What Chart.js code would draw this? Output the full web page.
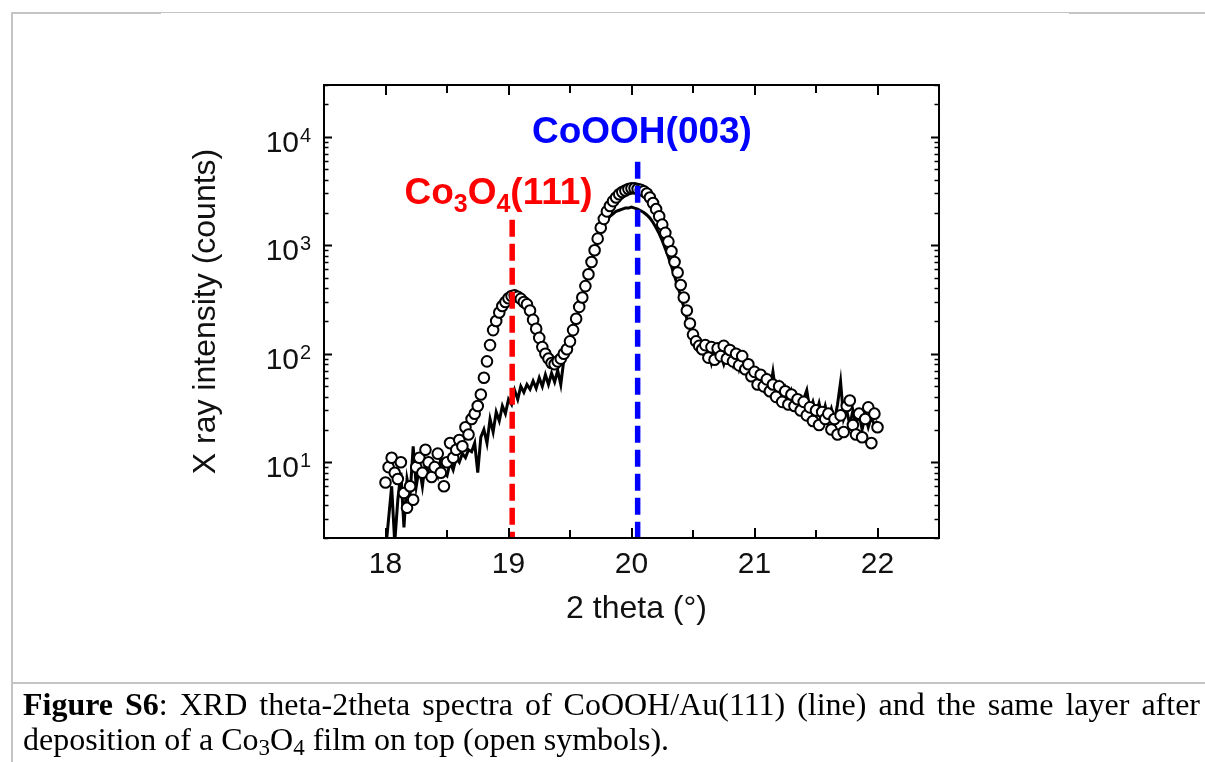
<!DOCTYPE html>
<html><head><meta charset="utf-8">
<script src="https://cdn.jsdelivr.net/npm/chart.js@4.4.1/dist/chart.umd.min.js"></script>
<style>
html,body{margin:0;padding:0;background:#fff;width:1205px;height:762px;overflow:hidden;}
body{position:relative;}
#wrap{position:absolute;left:0;top:0;width:1205px;height:680px;z-index:1;}
.bl{position:absolute;background:#c4c4c4;z-index:2;}
#cap{position:absolute;left:23px;top:687px;width:1177px;font-family:"Liberation Serif","Times New Roman",serif;font-size:32px;line-height:35px;text-align:justify;color:#000;z-index:2;}
#cap sub{font-size:0.72em;vertical-align:baseline;position:relative;top:0.22em;line-height:0;}
</style></head>
<body>
<div id="wrap"><canvas id="c"></canvas></div>
<div class="bl" style="left:11px;top:12px;width:1194px;height:1px;"></div>
<div class="bl" style="left:11px;top:13px;width:150px;height:1px;"></div>
<div class="bl" style="left:1069px;top:13px;width:136px;height:1px;"></div>
<div class="bl" style="left:11px;top:12px;width:2px;height:750px;"></div>
<div class="bl" style="left:11px;top:682px;width:1194px;height:2px;"></div>
<div id="cap"><b>Figure S6</b>: XRD theta-2theta spectra of CoOOH/Au(111) (line) and the same layer after deposition of a Co<sub>3</sub>O<sub>4</sub> film on top (open symbols).</div>
<script>
// 2 theta (deg)
const theta = [
18.000,18.025,18.050,18.075,18.100,18.125,18.150,18.175,
18.200,18.225,18.250,18.275,18.300,18.325,18.350,18.375,
18.400,18.425,18.450,18.475,18.500,18.525,18.550,18.575,
18.600,18.625,18.650,18.675,18.700,18.725,18.750,18.775,
18.800,18.825,18.850,18.875,18.900,18.925,18.950,18.975,
19.000,19.025,19.050,19.075,19.100,19.125,19.150,19.175,
19.200,19.225,19.250,19.275,19.300,19.325,19.350,19.375,
19.400,19.425,19.450,19.475,19.500,19.525,19.550,19.575,
19.600,19.625,19.650,19.675,19.700,19.725,19.750,19.775,
19.800,19.825,19.850,19.875,19.900,19.925,19.950,19.975,
20.000,20.025,20.050,20.075,20.100,20.125,20.150,20.175,
20.200,20.225,20.250,20.275,20.300,20.325,20.350,20.375,
20.400,20.425,20.450,20.475,20.500,20.525,20.550,20.575,
20.600,20.625,20.650,20.675,20.700,20.725,20.750,20.775,
20.800,20.825,20.850,20.875,20.900,20.925,20.950,20.975,
21.000,21.025,21.050,21.075,21.100,21.125,21.150,21.175,
21.200,21.225,21.250,21.275,21.300,21.325,21.350,21.375,
21.400,21.425,21.450,21.475,21.500,21.525,21.550,21.575,
21.600,21.625,21.650,21.675,21.700,21.725,21.750,21.775,
21.800,21.825,21.850,21.875,21.900,21.925,21.950,21.975,
22.000];

// CoOOH/Au(111) (line)
const countsLine = [
1.5,3,6,1.8,4.5,8,2.5,7,
5,14,6,9,6,10,8,7,
9,7.5,11,8,7.5,10,8.5,11,
10,12,11,13,12.5,15,8,17,
20,15,25,19,29,24,33,28,
38,34,46,38,50,44,52,47,
56,48,60,50,64,52,66,55,
70,52,88,100,120,155,200,260,
340,430,550,700,880,1080,1300,1500,
1700,1850,1950,2050,2100,2150,2200,2200,
2250,2200,2150,2080,2000,1900,1780,1620,
1450,1280,1100,930,780,640,520,420,
340,270,210,170,145,125,112,100,
95,110,82,105,90,98,80,100,
92,78,96,72,88,68,75,60,
70,55,62,48,60,45,68,42,
52,40,48,36,45,35,40,32,
38,46,30,36,28,35,26,33,
25,31,24,34,55,25,30,22,
30,22,28,20,27,21,26,22,
24];

// after Co3O4 deposition (open symbols)
const countsSymbols = [
6.5,9,11,8,7,10,5.2,3.8,
6,4.5,9,11,8,13,10,7.3,
9,12,8,6,10,15,11,13,
16,14,21,18,25,28,33,42,
60,85,120,165,200,240,275,300,
325,340,345,335,320,300,285,250,
205,170,140,115,100,90,82,80,
85,90,100,110,130,165,210,270,
330,420,540,700,900,1150,1450,1750,
2050,2300,2550,2750,2950,3100,3200,3300,
3350,3350,3300,3250,3150,3000,2750,2450,
2150,1850,1550,1300,1080,880,700,560,
430,330,250,190,150,130,118,110,
120,92,115,88,112,95,118,90,
108,85,100,78,95,72,80,62,
68,52,64,50,58,45,52,40,
50,36,45,34,42,33,38,30,
36,27,32,24,30,22,29,25,
28,20,25,18,27,19,33,37,
22,18,28,17,25,32,15,28,
21];

// reference peak positions (2 theta) and dashed-line tops (counts)
const peakNames = ["Co3O4(111)", "CoOOH(003)"];
const peakTheta = [19.03, 20.05];
const peakTop = [1715, 5870];

// axis ticks
const xTickLabels = [18, 19, 20, 21, 22];
const xTickMinor = [18.5, 19.5, 20.5, 21.5];
const yDecades = [1, 2, 3, 4];

const X_MIN = 17.5, X_MAX = 22.5, Y_MIN = 2, Y_MAX = 30000;

const lineData = theta.map((t, i) => ({x: t, y: countsLine[i]}));
const symData = theta.map((t, i) => ({x: t, y: countsSymbols[i]}));
const redDash = [{x: peakTheta[0], y: peakTop[0]}, {x: peakTheta[0], y: Y_MIN}];
const blueDash = [{x: peakTheta[1], y: peakTop[1]}, {x: peakTheta[1], y: Y_MIN}];

const SANS = '"Liberation Sans", Arial, sans-serif';

const deco = {
  id: 'deco',
  afterDatasetsDraw(chart) {
    const {ctx, chartArea: a, scales: {x, y}} = chart;
    ctx.save();
    ctx.strokeStyle = '#000';
    ctx.lineWidth = 2;
    ctx.strokeRect(a.left, a.top, a.right - a.left, a.bottom - a.top);
    ctx.lineWidth = 2;
    const xt = xTickLabels.map(v => [v, 10]).concat(xTickMinor.map(v => [v, 8]));
    xt.forEach(([v, len]) => {
      const px = Math.round(x.getPixelForValue(v));
      ctx.beginPath();
      ctx.moveTo(px, a.bottom); ctx.lineTo(px, a.bottom - len);
      ctx.moveTo(px, a.top); ctx.lineTo(px, a.top + len);
      ctx.stroke();
    });
    for (let d = 0; d <= 4; d++) {
      for (let m = 1; m <= 9; m++) {
        const v = m * Math.pow(10, d);
        if (v < Y_MIN || v > Y_MAX) continue;
        const py = Math.round(y.getPixelForValue(v)) + 0.5;
        const len = m === 1 ? 8 : 4.5;
        ctx.lineWidth = m === 1 ? 2 : 1.3;
        ctx.beginPath();
        ctx.moveTo(a.left, py); ctx.lineTo(a.left + len, py);
        ctx.moveTo(a.right, py); ctx.lineTo(a.right - len, py);
        ctx.stroke();
      }
    }
    ctx.fillStyle = '#111';
    ctx.font = '30px ' + SANS;
    ctx.textAlign = 'center';
    ctx.textBaseline = 'alphabetic';
    xTickLabels.forEach(v => {
      ctx.fillText(String(v), x.getPixelForValue(v), a.bottom + 35);
    });
    yDecades.forEach(n => {
      const py = y.getPixelForValue(Math.pow(10, n));
      ctx.font = '30px ' + SANS;
      ctx.textAlign = 'right';
      ctx.fillText('10', a.left - 25, py + 15);
      ctx.font = '20px ' + SANS;
      ctx.textAlign = 'left';
      ctx.fillText(String(n), a.left - 24, py + 5);
    });
    ctx.font = '32px ' + SANS;
    ctx.textAlign = 'center';
    ctx.fillText('2 theta (\u00B0)', (a.left + a.right) / 2 + 5, a.bottom + 80);
    ctx.save();
    ctx.translate(a.left - 109, (a.top + a.bottom) / 2);
    ctx.rotate(-Math.PI / 2);
    ctx.fillText('X ray intensity (counts)', 0, 0);
    ctx.restore();
    ctx.font = 'bold 37px ' + SANS;
    ctx.fillStyle = '#0000ff';
    ctx.textAlign = 'center';
    ctx.fillText(peakNames[1], x.getPixelForValue(20.085), y.getPixelForValue(8830));
    ctx.fillStyle = '#ff0000';
    ctx.textAlign = 'left';
    let px = x.getPixelForValue(18.154);
    const by = y.getPixelForValue(2410);
    const parts = [['Co', 0], ['3', 1], ['O', 0], ['4', 1], ['(111)', 0]];
    parts.forEach(([s, sub]) => {
      ctx.font = sub ? 'bold 25px ' + SANS : 'bold 37px ' + SANS;
      ctx.fillText(s, px, sub ? by + 8 : by);
      px += ctx.measureText(s).width;
    });
    ctx.restore();
  }
};

new Chart(document.getElementById('c'), {
  type: 'line',
  data: {
    datasets: [
      {label: 'CoOOH/Au(111)', data: lineData, borderColor: '#000', borderWidth: 3,
       pointRadius: 0, tension: 0, fill: false, order: 3},
      {label: 'after Co3O4', data: symData, showLine: false, pointStyle: 'circle',
       pointRadius: 5.3, pointBorderWidth: 2, pointBorderColor: '#000',
       pointBackgroundColor: '#fff', borderColor: '#000', backgroundColor: '#fff', order: 2},
      {label: 'Co3O4(111)', data: redDash, borderColor: '#ff0000', borderWidth: 5.5,
       borderDash: [17, 7], borderCapStyle: 'butt', pointRadius: 0, order: 1},
      {label: 'CoOOH(003)', data: blueDash, borderColor: '#0000ff', borderWidth: 5.5,
       borderDash: [17, 7], borderCapStyle: 'butt', pointRadius: 0, order: 1}
    ]
  },
  options: {
    responsive: true,
    maintainAspectRatio: false,
    animation: false,
    devicePixelRatio: 1,
    events: [],
    layout: {padding: {left: 324, right: 266, top: 85, bottom: 142}},
    plugins: {legend: {display: false}, tooltip: {enabled: false}},
    scales: {
      x: {type: 'linear', min: X_MIN, max: X_MAX, display: false},
      y: {type: 'logarithmic', min: Y_MIN, max: Y_MAX, display: false}
    }
  },
  plugins: [deco]
});
</script>
</body></html>
